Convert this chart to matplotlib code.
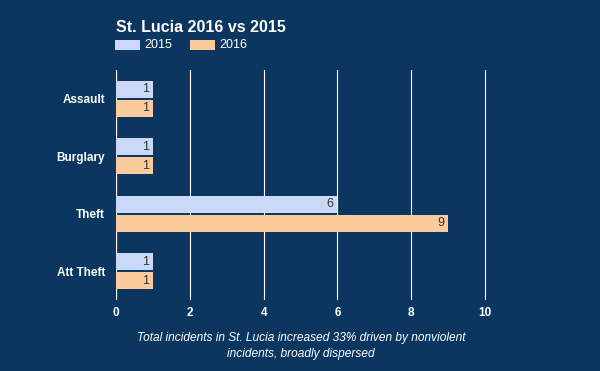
import matplotlib
matplotlib.use("Agg")
from matplotlib import pyplot as plt
from matplotlib.patches import Rectangle
import numpy as np

plt.rcParams['font.family'] = ['Liberation Sans', 'DejaVu Sans']

categories = ['Assault', 'Burglary', 'Theft', 'Att Theft']
values_2015 = [1, 1, 6, 1]
values_2016 = [1, 1, 9, 1]
series_names = ['2015', '2016']
xticks = [0, 2, 4, 6, 8, 10]

bg = '#0a365f'
c2015 = '#c9d9f7'
c2016 = '#fbcb9b'

fig = plt.figure(figsize=(6, 3.71), dpi=100, facecolor=bg)
ax = fig.add_axes([116/600, 1 - 300/371, (487 - 116)/600, 230/371])
ax.set_facecolor(bg)

y = np.arange(len(categories))
h = 0.3
b1 = ax.barh(y - 0.165, values_2015, height=h, color=c2015, zorder=3)
b2 = ax.barh(y + 0.165, values_2016, height=h, color=c2016, zorder=3)

for bars in (b1, b2):
    for r in bars:
        w = r.get_width()
        ax.text(w - 0.1, r.get_y() + r.get_height() / 2, str(int(w)),
                ha='right', va='center', color='#333333', fontsize=9, zorder=4)

ax.set_ylim(len(categories) - 0.5, -0.5)
ax.set_xlim(0, 10.05)
ax.set_yticks(y)
ax.set_yticklabels(categories, color='white', fontsize=8.5, fontweight='bold')
ax.set_xticks(xticks)
ax.set_xticklabels([str(t) for t in xticks], color='white', fontsize=8.5, fontweight='bold')
ax.tick_params(axis='y', length=0, pad=8)
ax.tick_params(axis='x', length=0, pad=5)
for s in ax.spines.values():
    s.set_visible(False)
ax.grid(axis='x', color='white', linewidth=0.8, zorder=0)
ax.axvline(0, color='#777777', linewidth=1, zorder=1)

# title and legend
fig.text(116/600, 1 - 27/371, 'St. Lucia 2016 vs 2015', color='white',
         fontsize=11.5, fontweight='bold', va='center', ha='left')
for i, (name, col) in enumerate(zip(series_names, [c2015, c2016])):
    x0 = 115 + i * 75
    fig.patches.append(Rectangle((x0/600, 1 - 50/371), 25/600, 10/371,
                                 transform=fig.transFigure, facecolor=col, edgecolor='none'))
    fig.text((x0 + 29)/600, 1 - 45/371, name, color='white', fontsize=9, va='center', ha='left')

fig.text(301/600, 1 - 338/371, 'Total incidents in St. Lucia increased 33% driven by nonviolent',
         color='white', fontsize=8.6, style='italic', ha='center', va='center')
fig.text(301/600, 1 - 354/371, 'incidents, broadly dispersed',
         color='white', fontsize=8.6, style='italic', ha='center', va='center')

fig.savefig('out.png', dpi=100, facecolor=bg)
